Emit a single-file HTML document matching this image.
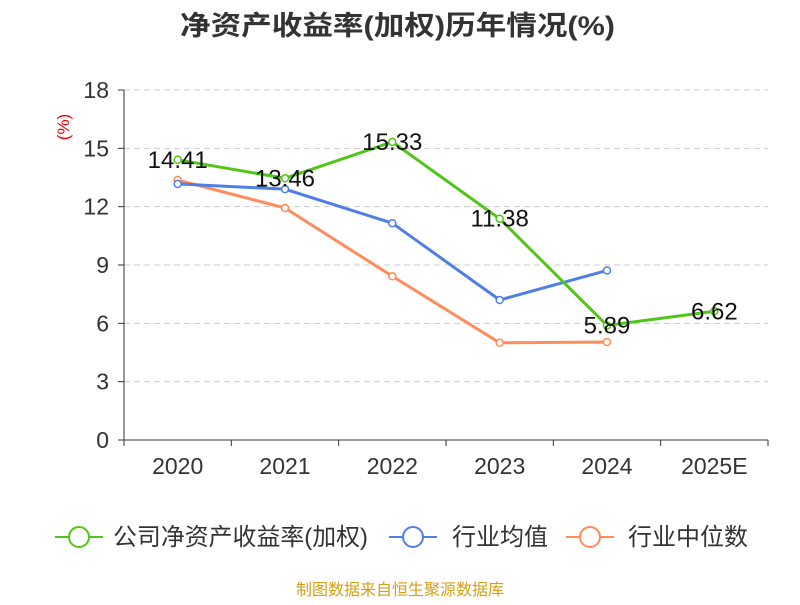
<!DOCTYPE html>
<html><head><meta charset="utf-8">
<style>
body{margin:0;background:#fff;}
svg text{font-family:"Liberation Sans","Noto Sans CJK SC",sans-serif;}
</style></head>
<body>
<svg id="chart" width="800" height="600" xmlns="http://www.w3.org/2000/svg">
<text x="180" y="35" textLength="435" lengthAdjust="spacingAndGlyphs" font-size="27" font-weight="bold" fill="#333">净资产收益率(加权)历年情况(%)</text>
<text x="0" y="0" transform="translate(69,127) rotate(-90)" text-anchor="middle" font-size="17" fill="#e00">(%)</text>
<g id="grid"></g><g id="axes"></g><g id="series"></g>
<g>
<g><line x1="55" y1="537" x2="103" y2="537" stroke="#52c41a" stroke-width="2"/><circle cx="79" cy="537" r="10" fill="#fff" stroke="#52c41a" stroke-width="2"/><text x="113" y="545" font-size="24" textLength="255" lengthAdjust="spacingAndGlyphs" fill="#333">公司净资产收益率(加权)</text></g>
<g><line x1="389" y1="537" x2="437" y2="537" stroke="#4f7fe6" stroke-width="2"/><circle cx="413" cy="537" r="10" fill="#fff" stroke="#4f7fe6" stroke-width="2"/><text x="452" y="545" font-size="24" fill="#333">行业均值</text></g>
<g><line x1="566" y1="537" x2="614" y2="537" stroke="#ff8c5a" stroke-width="2"/><circle cx="590" cy="537" r="10" fill="#fff" stroke="#ff8c5a" stroke-width="2"/><text x="628" y="545" font-size="24" fill="#333">行业中位数</text></g>
</g>
<text x="400" y="595" text-anchor="middle" font-size="16" fill="#d4a017">制图数据来自恒生聚源数据库</text>
</svg>
<script>
const categories=["2020","2021","2022","2023","2024","2025E"];
const companyValues=[14.41,13.46,15.33,11.38,5.89,6.62];
const industryAvg=[13.17,12.9,11.15,7.2,8.72];
const industryMedian=[13.37,11.93,8.42,5.0,5.04];
const yTicks=[0,3,6,9,12,15,18];
const NS="http://www.w3.org/2000/svg";
const x0=124,x1=768,y0=440,y1=90,yMax=18;
const bw=(x1-x0)/categories.length;
const xs=i=>x0+bw*(i+0.5);
const ys=v=>y0-(v/yMax)*(y0-y1);
function mk(t,a,p){const e=document.createElementNS(NS,t);for(const k in a)e.setAttribute(k,a[k]);p.appendChild(e);return e;}
const grid=document.getElementById('grid'),axes=document.getElementById('axes'),ser=document.getElementById('series');
yTicks.forEach(v=>{
 if(v>0){const g=mk('line',{x1:x0,x2:x1,y1:ys(v),y2:ys(v),stroke:'#ccc','stroke-dasharray':'6,4'},grid);
 
 }
 mk('line',{x1:x0-6,x2:x0,y1:ys(v),y2:ys(v),stroke:'#333'},axes);
 const t=mk('text',{x:x0-15,y:ys(v)+8,'text-anchor':'end','font-size':23,fill:'#333'},axes);t.textContent=v;
 
 
});
mk('line',{x1:x0,x2:x0,y1:y1,y2:y0,stroke:'#333'},axes);
mk('line',{x1:x0,x2:x1,y1:y0,y2:y0,stroke:'#333'},axes);
for(let i=0;i<=categories.length;i++)mk('line',{x1:x0+bw*i,x2:x0+bw*i,y1:y0,y2:y0+6,stroke:'#333'},axes);
categories.forEach((c,i)=>{const t=mk('text',{x:xs(i),y:474,'text-anchor':'middle','font-size':23,fill:'#333'},axes);t.textContent=c;
 
 });
function line(vals,color,name,labels){
 const g=mk('g',{},ser);
 
 
 mk('polyline',{points:vals.map((v,i)=>xs(i)+','+ys(v)).join(' '),fill:'none',stroke:color,'stroke-width':3},g);
 vals.forEach((v,i)=>{const c=mk('circle',{cx:xs(i),cy:ys(v),r:3.5,fill:'#fff',stroke:color,'stroke-width':1.5},g);
  
  
  if(labels){const t=mk('text',{x:xs(i),y:ys(v)+8,'text-anchor':'middle','font-size':24,fill:'#111'},g);t.textContent=v.toFixed(2);
   
   }
 });
}
line(industryMedian,'#ff8c5a','industry-median-line',false);
line(industryAvg,'#4f7fe6','industry-avg-line',false);
line(companyValues,'#52c41a','company-roe-line',true);
</script>
</body></html>
